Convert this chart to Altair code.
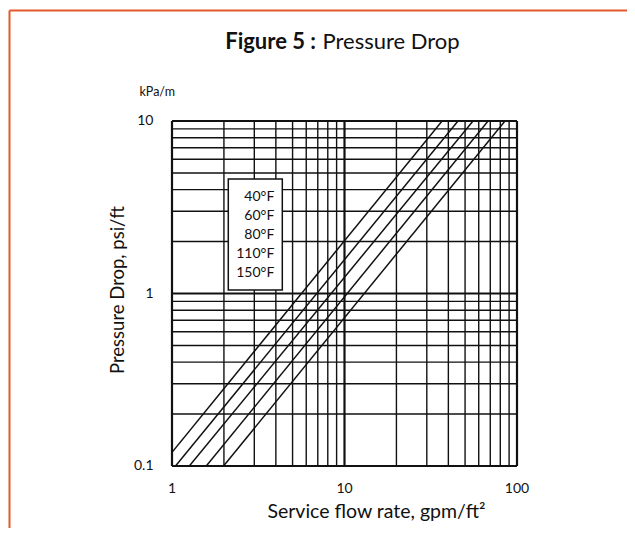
import altair as alt
import pandas as pd

FONT = "Lato"

# Temperature lines (log-log), endpoints
temps = ["40°F", "60°F", "80°F", "110°F", "150°F"]
x_start = [1.0, 1.048, 1.26, 1.58, 1.99]
y_start = [0.12, 0.1, 0.1, 0.1, 0.1]
x_end = [36.8, 45.5, 55.6, 68.0, 85.2]
y_end = [10, 10, 10, 10, 10]

# Grid
x_grid_minor = [2, 3, 4, 5, 6, 7, 8, 9, 20, 30, 40, 50, 60, 70, 80, 90]
x_grid_major = [1, 10, 100]
y_grid_minor = [0.2, 0.3, 0.4, 0.5, 0.6, 0.7, 0.8, 0.9, 2, 3, 4, 5, 6, 7, 8, 9]
y_grid_major = [0.1, 1, 10]
x_ticks = [1, 10, 100]
x_tick_labels = ["1", "10", "100"]
y_ticks = [0.1, 1, 10]
y_tick_labels = ["0.1", "1", "10"]

# Legend box (data coordinates)
box_x = [2.12, 4.36]
box_y = [1.047, 4.61]
legend_label_x = 3.92
legend_label_y = [3.62, 2.81, 2.18, 1.69, 1.31]

title_bold = "Figure 5 :"
title_regular = "Pressure Drop"
x_title = "Service flow rate, gpm/ft²"
y_title = "Pressure Drop, psi/ft"
unit_label = "kPa/m"

W, H = 345, 345
INK = "#111111"
ORANGE = "#E2592C"

xs = alt.Scale(type="log", domain=[1, 100], nice=False)
ys = alt.Scale(type="log", domain=[0.1, 10], nice=False)

rows = []
for t, x0, y0, x1, y1 in zip(temps, x_start, y_start, x_end, y_end):
    rows.append({"temp": t, "x": x0, "y": y0})
    rows.append({"temp": t, "x": x1, "y": y1})
lines_df = pd.DataFrame(rows)

one = pd.DataFrame({"a": [0]})

xgmin = alt.Chart(pd.DataFrame({"gx": x_grid_minor})).mark_rule(color=INK, strokeWidth=1.4).encode(
    x=alt.X("gx:Q", scale=xs, axis=None))
ygmin = alt.Chart(pd.DataFrame({"gy": y_grid_minor})).mark_rule(color=INK, strokeWidth=1.4).encode(
    y=alt.Y("gy:Q", scale=ys, axis=None))
xgmaj = alt.Chart(pd.DataFrame({"gx": x_grid_major})).mark_rule(color=INK, strokeWidth=2.2).encode(
    x=alt.X("gx:Q", scale=xs, axis=None))
ygmaj = alt.Chart(pd.DataFrame({"gy": y_grid_major})).mark_rule(color=INK, strokeWidth=2.2).encode(
    y=alt.Y("gy:Q", scale=ys, axis=None))

lines = alt.Chart(lines_df).mark_line(color=INK, strokeWidth=1.5, clip=True).encode(
    x=alt.X("x:Q", scale=xs, axis=None),
    y=alt.Y("y:Q", scale=ys, axis=None),
    detail="temp:N")

box = alt.Chart(pd.DataFrame({"x0": [box_x[0]], "x1": [box_x[1]], "y0": [box_y[0]], "y1": [box_y[1]]})).mark_rect(
    fill="white", stroke=INK, strokeWidth=1.5).encode(
    x=alt.X("x0:Q", scale=xs, axis=None), x2="x1:Q",
    y=alt.Y("y0:Q", scale=ys, axis=None), y2="y1:Q")

leg_text = alt.Chart(pd.DataFrame({"t": temps, "lx": [legend_label_x] * len(temps), "ly": legend_label_y})).mark_text(
    align="right", baseline="middle", font=FONT, fontSize=14, color=INK).encode(
    x=alt.X("lx:Q", scale=xs, axis=None),
    y=alt.Y("ly:Q", scale=ys, axis=None),
    text="t:N")

xtick_text = alt.Chart(pd.DataFrame({"v": x_ticks, "t": x_tick_labels})).mark_text(
    align="center", baseline="middle", font=FONT, fontSize=14, color=INK).encode(
    x=alt.X("v:Q", scale=xs, axis=None), y=alt.value(368), text="t:N")
ytick_text = alt.Chart(pd.DataFrame({"v": y_ticks, "t": y_tick_labels})).mark_text(
    align="right", baseline="middle", font=FONT, fontSize=14, color=INK).encode(
    y=alt.Y("v:Q", scale=ys, axis=None), x=alt.value(-18.5), text="t:N")

t_bold = alt.Chart(pd.DataFrame({"t": [title_bold]})).mark_text(
    align="right", baseline="middle", font=FONT, fontSize=22, fontWeight="bold", color=INK).encode(
    x=alt.value(144), y=alt.value(-79), text="t:N")
t_reg = alt.Chart(pd.DataFrame({"t": [title_regular]})).mark_text(
    align="left", baseline="middle", font=FONT, fontSize=22, color=INK).encode(
    x=alt.value(150.5), y=alt.value(-79), text="t:N")
xt = alt.Chart(pd.DataFrame({"t": [x_title]})).mark_text(
    align="center", baseline="middle", font=FONT, fontSize=19.5, color=INK).encode(
    x=alt.value(204.5), y=alt.value(391), text="t:N")
yt = alt.Chart(pd.DataFrame({"t": [y_title]})).mark_text(
    align="center", baseline="middle", font=FONT, fontSize=18.5, color=INK, angle=270).encode(
    x=alt.value(-54.5), y=alt.value(169), text="t:N")
unit = alt.Chart(pd.DataFrame({"t": [unit_label]})).mark_text(
    align="left", baseline="middle", font=FONT, fontSize=12.5, color=INK).encode(
    x=alt.value(-32.5), y=alt.value(-29), text="t:N")

frame_top = alt.Chart(one).mark_rule(color=ORANGE, strokeWidth=2).encode(
    x=alt.value(-162.5), x2=alt.value(700), y=alt.value(-110.5))
frame_left = alt.Chart(one).mark_rule(color=ORANGE, strokeWidth=2).encode(
    x=alt.value(-162.5), y=alt.value(-110.5), y2=alt.value(700))

chart = alt.layer(
    xgmin, ygmin, xgmaj, ygmaj, lines, box, leg_text, xtick_text, ytick_text,
    t_bold, t_reg, xt, yt, unit, frame_top, frame_left
).properties(
    width=W, height=H,
    autosize=alt.AutoSizeParams(type="none"),
    padding={"left": 164, "top": 113, "right": 110, "bottom": 62},
    background="white",
).configure_view(stroke=None)

chart.save("out.html", embed_options={"renderer": "svg", "actions": False})
